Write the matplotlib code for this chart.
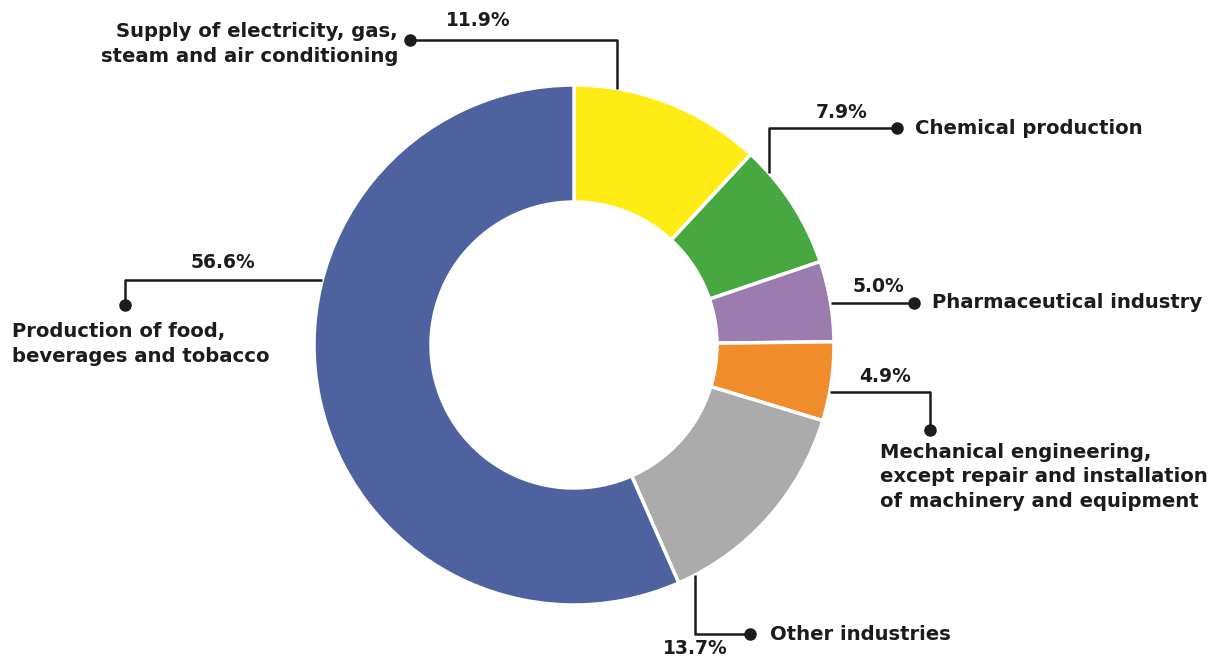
import numpy as np
import matplotlib.pyplot as plt

# Shares by industry, clockwise from 12 o'clock
labels = [
    "Supply of electricity, gas,\nsteam and air conditioning",
    "Chemical production",
    "Pharmaceutical industry",
    "Mechanical engineering,\nexcept repair and installation\nof machinery and equipment",
    "Other industries",
    "Production of food,\nbeverages and tobacco",
]
shares = [11.9, 7.9, 5.0, 4.9, 13.7, 56.6]
colors = ["#FEEC14", "#47A842", "#9C7BAF", "#F08C2C", "#ABABAB", "#4E62A0"]

W, H = 1224, 659
plt.rcParams['font.family'] = ['DejaVu Sans']
INK = "#1c1c1c"

fig = plt.figure(figsize=(W / 100, H / 100), dpi=100)
ax = fig.add_axes([0, 0, 1, 1])

cx, cy, R = 574, 345, 260
ax.pie(shares, colors=colors, startangle=90, counterclock=False,
       center=(cx, H - cy), radius=R, frame=True,
       wedgeprops=dict(width=R * 0.45, edgecolor='white', linewidth=2.5))
ax.set_xlim(0, W)
ax.set_ylim(0, H)
ax.set_aspect('equal')
ax.axis('off')


def px(x, y):
    return x, H - y


def ring_y(x, side):
    # y (pixels, top-down) of the outer edge for a given x, top or bottom half
    d = np.sqrt(R ** 2 - (x - cx) ** 2)
    return cy - d if side == 'top' else cy + d


def ring_x(y, side):
    d = np.sqrt(R ** 2 - (y - cy) ** 2)
    return cx - d if side == 'left' else cx + d


def leader(points, dot):
    xs, ys = zip(*[px(*p) for p in points])
    ax.plot(xs, ys, color=INK, lw=1.8, solid_capstyle='butt', zorder=5)
    ax.plot(*px(*dot), 'o', color=INK, ms=8, zorder=6)


def txt(x, y, s, ha='left', va='center', size=14.1):
    ax.text(*px(x, y), s, ha=ha, va=va, fontsize=size, fontweight='bold',
            color=INK, linespacing=1.35)


# leader lines: (path, dot, pct position, label position, label alignment)
guides = [
    ([(617, ring_y(617, 'top')), (617, 40), (410, 40)], (410, 40),
     (478, 21), (398, 44), 'right'),
    ([(769, ring_y(769, 'top')), (769, 128), (897, 128)], (897, 128),
     (842, 112), (915, 128), 'left'),
    ([(ring_x(303, 'right'), 303), (914, 303)], (914, 303),
     (878, 287), (932, 303), 'left'),
    ([(ring_x(392, 'right'), 392), (930, 392), (930, 430)], (930, 430),
     (885, 376), (880, 477), 'left'),
    ([(695, ring_y(695, 'bottom')), (695, 634), (750, 634)], (750, 634),
     (695, 648), (770, 634), 'left'),
    ([(ring_x(280, 'left'), 280), (125, 280), (125, 305)], (125, 305),
     (223, 262), (12, 344), 'left'),
]

for (path, dot, ppos, lpos, ha), lab, val in zip(guides, labels, shares):
    leader(path, dot)
    txt(*ppos, f"{val:.1f}%", ha='center', size=13.5)
    txt(*lpos, lab, ha=ha)

fig.savefig("out.png", dpi=100, facecolor='white')
